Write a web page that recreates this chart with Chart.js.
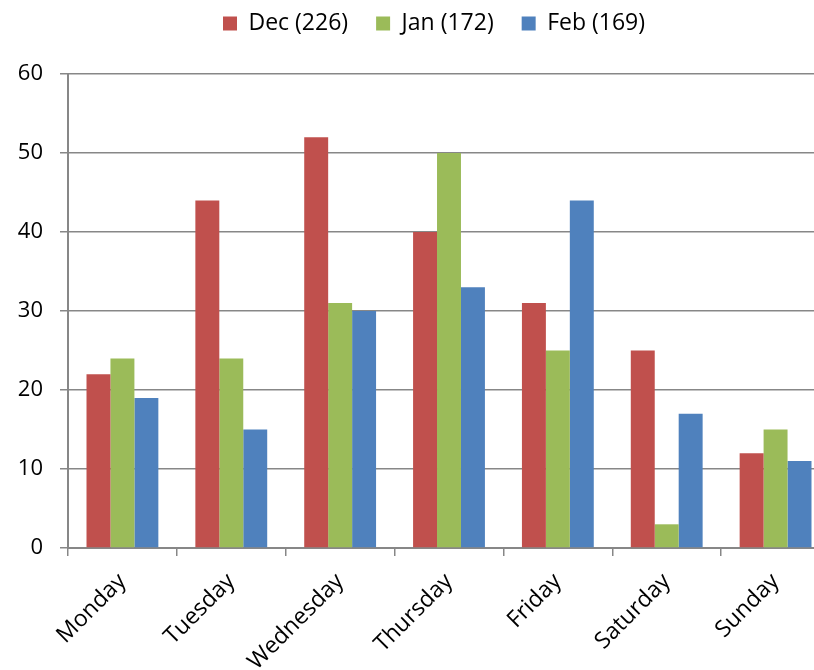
<!DOCTYPE html>
<html>
<head>
<meta charset="utf-8">
<script src="https://cdn.jsdelivr.net/npm/chart.js@4/dist/chart.umd.min.js"></script>
<style>
  html, body { margin: 0; padding: 0; overflow: hidden; background: #fff; }
  #wrap { width: 868px; height: 670px; }
</style>
</head>
<body>
<div id="wrap"><canvas id="chart" width="868" height="670"></canvas></div>
<script>
const days = ["Monday", "Tuesday", "Wednesday", "Thursday", "Friday", "Saturday", "Sunday"];
const decValues = [22, 44, 52, 40, 31, 25, 12];
const janValues = [24, 24, 31, 50, 25, 3, 15];
const febValues = [19, 15, 30, 33, 44, 17, 11];
const seriesNames = ["Dec (226)", "Jan (172)", "Feb (169)"];
const yTicks = [0, 10, 20, 30, 40, 50, 60];

const gridColor = "#878787";
const family = "'Open Sans', 'Liberation Sans', sans-serif";

// legend keeps its place at the top, but reserves room down to the plot top
// and is centred on the whole canvas rather than on the padded area
const legendSpace = {
  id: "legendSpace",
  beforeInit(chart) {
    const fit = chart.legend.fit;
    chart.legend.fit = function () {
      fit.call(this);
      this.height = 90;
    };
  },
  afterUpdate(chart) {
    chart.legend.left = 19;
    chart.legend.right = chart.width - 19;
  },
};

const ctx = document.getElementById("chart").getContext("2d");
new Chart(ctx, {
  type: "bar",
  data: {
    labels: days,
    datasets: [
      { label: seriesNames[0], data: decValues, backgroundColor: "#C0504D" },
      { label: seriesNames[1], data: janValues, backgroundColor: "#9BBB59" },
      { label: seriesNames[2], data: febValues, backgroundColor: "#4F81BD" },
    ],
  },
  plugins: [legendSpace],
  options: {
    responsive: false,
    animation: false,
    devicePixelRatio: 1,
    layout: { padding: { top: -16, right: 38, left: 0, bottom: 0 } },
    datasets: {
      bar: { categoryPercentage: 0.66, barPercentage: 1.0 },
    },
    plugins: {
      legend: {
        position: "top",
        labels: {
          color: "#000",
          font: { family: family, size: 23 },
          boxWidth: 14,
          boxHeight: 14,
          padding: 28,
        },
      },
      tooltip: { enabled: false },
    },
    scales: {
      x: {
        offset: true,
        grid: {
          offset: true,
          drawOnChartArea: false,
          drawTicks: true,
          tickLength: 8,
          color: gridColor,
          lineWidth: 1.5,
        },
        border: { color: gridColor, width: 2 },
        ticks: {
          color: "#000",
          font: { family: family, size: 23 },
          maxRotation: 45,
          minRotation: 45,
          padding: 12,
        },
        afterFit: (scale) => { scale.height = 122; },
      },
      y: {
        min: 0,
        max: 60,
        afterBuildTicks: (scale) => { scale.ticks = yTicks.map((v) => ({ value: v })); },
        grid: {
          color: gridColor,
          lineWidth: 1.5,
          tickLength: 8,
        },
        border: { color: gridColor, width: 2 },
        ticks: {
          color: "#000",
          font: { family: family, size: 22 },
          padding: 17,
        },
        afterFit: (scale) => { scale.width = 68; },
      },
    },
  },
});
</script>
</body>
</html>
